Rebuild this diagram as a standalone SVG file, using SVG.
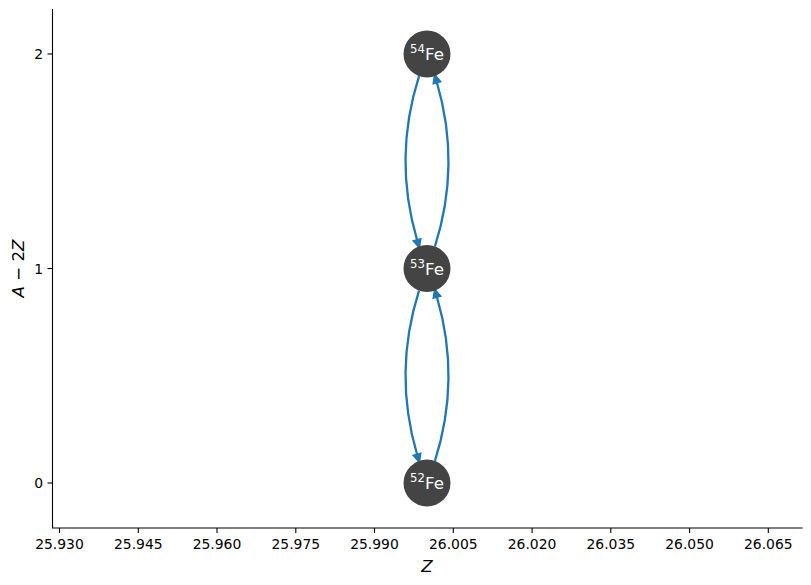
<svg xmlns="http://www.w3.org/2000/svg" width="811" height="585" viewBox="0 0 811 585">
<style>
.spine{stroke:#000;stroke-width:1.1;fill:none;stroke-linecap:square}
.tick{stroke:#000;stroke-width:1.1}
.tl{font-family:"DejaVu Sans",sans-serif;font-size:13.9px;fill:#000}
.lab{font-family:"DejaVu Sans",sans-serif;font-size:16.7px;fill:#000}
.it{font-style:italic}
.edge{fill:none;stroke:#1f77b4;stroke-width:2.3;marker-end:url(#ah)}
.node circle{fill:#444444}
.node text{font-family:"DejaVu Sans",sans-serif;font-size:16.7px;fill:#fff;text-anchor:middle}
.node .sup{font-size:11.7px}
</style>
<defs>
<marker id="ah" markerUnits="userSpaceOnUse" markerWidth="12" markerHeight="12" refX="0" refY="0" viewBox="-1 -5 10 10" orient="auto" overflow="visible">
<path d="M0,-3.3 L7,0 L0,3.3 Z" fill="#1f77b4" stroke="#1f77b4" stroke-width="1.2" stroke-linejoin="miter"/>
</marker>
</defs>
<rect width="811" height="585" fill="#fff"/>
<g id="axes">
<path class="spine" d="M52.5,9.5 V528 H802"/>
<g class="tick">
<line x1="59.5" y1="528" x2="59.5" y2="533"/>
<line x1="138.3" y1="528" x2="138.3" y2="533"/>
<line x1="217" y1="528" x2="217" y2="533"/>
<line x1="295.8" y1="528" x2="295.8" y2="533"/>
<line x1="374.5" y1="528" x2="374.5" y2="533"/>
<line x1="453.3" y1="528" x2="453.3" y2="533"/>
<line x1="532.1" y1="528" x2="532.1" y2="533"/>
<line x1="610.8" y1="528" x2="610.8" y2="533"/>
<line x1="689.6" y1="528" x2="689.6" y2="533"/>
<line x1="768.3" y1="528" x2="768.3" y2="533"/>
<line x1="52.5" y1="54" x2="47.5" y2="54"/>
<line x1="52.5" y1="268.5" x2="47.5" y2="268.5"/>
<line x1="52.5" y1="483" x2="47.5" y2="483"/>
</g>
<g class="tl" text-anchor="middle">
<text x="59.5" y="549">25.930</text>
<text x="138.3" y="549">25.945</text>
<text x="217" y="549">25.960</text>
<text x="295.8" y="549">25.975</text>
<text x="374.5" y="549">25.990</text>
<text x="453.3" y="549">26.005</text>
<text x="532.1" y="549">26.020</text>
<text x="610.8" y="549">26.035</text>
<text x="689.6" y="549">26.050</text>
<text x="768.3" y="549">26.065</text>
</g>
<g class="tl" text-anchor="end">
<text x="43" y="59">2</text>
<text x="43" y="273.5">1</text>
<text x="43" y="488">0</text>
</g>
<text class="lab it" x="427" y="572" text-anchor="middle">Z</text>
<text class="lab" transform="translate(24,268.5) rotate(-90)" text-anchor="middle"><tspan class="it">A</tspan> − 2<tspan class="it">Z</tspan></text>
</g>
<g id="connectors">
<path class="edge" d="M419.05,76.1 Q393.0,157.93 417.02,239.76"/>
<path class="edge" d="M434.95,246.4 Q461.0,164.57 436.98,82.74"/>
<path class="edge" d="M419.05,290.6 Q393.0,372.43 417.02,454.26"/>
<path class="edge" d="M434.95,460.9 Q461.0,379.07 436.98,297.24"/>
</g>
<g id="n54Fe" class="node">
<circle cx="427" cy="54" r="23.5"/>
<text x="427" y="60"><tspan class="sup" dy="-7">54</tspan><tspan dy="7">Fe</tspan></text>
</g>
<g id="n53Fe" class="node">
<circle cx="427" cy="268.5" r="23.5"/>
<text x="427" y="274.5"><tspan class="sup" dy="-7">53</tspan><tspan dy="7">Fe</tspan></text>
</g>
<g id="n52Fe" class="node">
<circle cx="427" cy="483" r="23.5"/>
<text x="427" y="489"><tspan class="sup" dy="-7">52</tspan><tspan dy="7">Fe</tspan></text>
</g>
</svg>
